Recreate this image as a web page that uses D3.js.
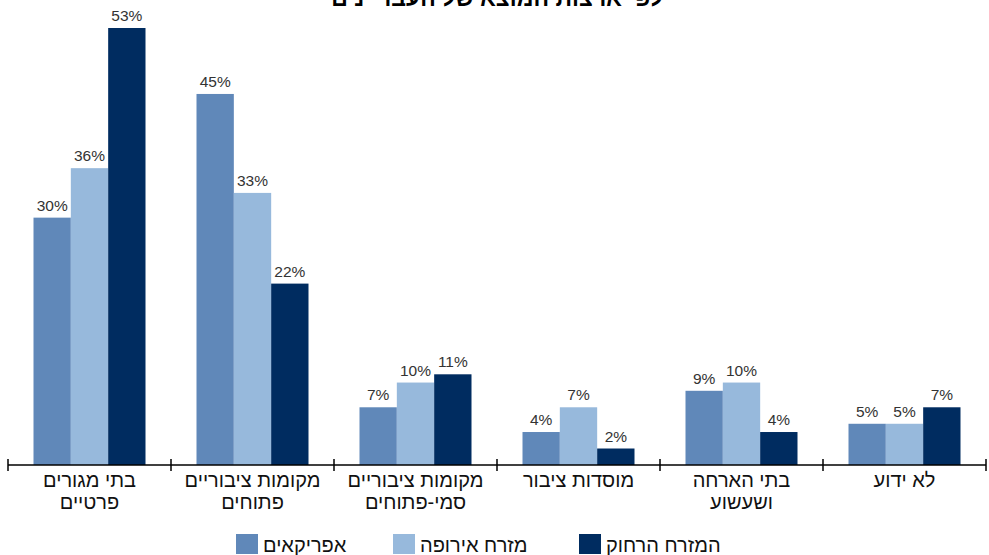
<!DOCTYPE html>
<html><head><meta charset="utf-8">
<script src="https://cdn.jsdelivr.net/npm/d3@7"></script>
<style>
html,body{margin:0;padding:0;background:#fff;}
svg{display:block;font-family:"Liberation Sans",Arial,sans-serif;}
</style></head>
<body>
<svg id="chart" width="989" height="555"></svg>
<script>
const title = "לפי ארצות המוצא של העבריינים";
const categories = [
  ["בתי מגורים","פרטיים"],
  ["מקומות ציבוריים","פתוחים"],
  ["מקומות ציבוריים","סמי-פתוחים"],
  ["מוסדות ציבור"],
  ["בתי הארחה","ושעשוע"],
  ["לא ידוע"]
];
const seriesNames = ["אפריקאים","מזרח אירופה","המזרח הרחוק"];
const african = [30, 45, 7, 4, 9, 5];
const easternEurope = [36, 33, 10, 7, 10, 5];
const farEast = [53, 22, 11, 2, 4, 7];
const colors = ["#6088b9","#97b9dc","#002c60"];

const seriesValues = [african, easternEurope, farEast];
const svg = d3.select("#chart");

const catIdx = categories.map((c,i)=>i);
const pIn = 51/163, pOut = 25.5/163;
const x0 = d3.scaleBand().domain(catIdx).range([8, 986]).paddingInner(pIn).paddingOuter(pOut);
const x1 = d3.scaleBand().domain([0,1,2]).range([0, x0.bandwidth()]);
const y = d3.scaleLinear().domain([0, 53]).range([465, 28]);

// title (clipped at top, as in the reference)
svg.append("text").attr("x", 497).attr("y", 6).attr("text-anchor","middle")
  .attr("font-weight","bold").attr("font-size", 23).attr("fill","#000").text(title);

// bars
const groups = svg.selectAll("g.grp").data(catIdx).join("g").attr("class","grp")
  .attr("transform", d => `translate(${x0(d)},0)`);
groups.selectAll("rect").data(ci => seriesValues.map((s,si)=>({si, v:s[ci]}))).join("rect")
  .attr("x", d => x1(d.si)).attr("width", x1.bandwidth())
  .attr("y", d => y(d.v)).attr("height", d => y(0) - y(d.v))
  .attr("fill", d => colors[d.si]);
groups.selectAll("text.val").data(ci => seriesValues.map((s,si)=>({si, v:s[ci]}))).join("text")
  .attr("class","val")
  .attr("x", d => x1(d.si) + x1.bandwidth()/2).attr("y", d => y(d.v) - 7)
  .attr("text-anchor","middle").attr("font-size", 15.5).attr("fill","#333")
  .text(d => d.v + "%");

// axis
const step = x0.step();
const ticks = d3.range(categories.length + 1).map(i => 8 + i*step);
svg.append("line").attr("x1", 8).attr("x2", 986).attr("y1", y(0)).attr("y2", y(0))
  .attr("stroke","#000").attr("stroke-width",1.5);
svg.selectAll("line.tick").data(ticks).join("line").attr("class","tick")
  .attr("x1", d=>d).attr("x2", d=>d).attr("y1", 459).attr("y2", 471)
  .attr("stroke","#000").attr("stroke-width",1.5);

// category labels
categories.forEach((lines, i) => {
  const cx = x0(i) + x0.bandwidth()/2;
  lines.forEach((ln, j) => {
    svg.append("text").attr("x", cx).attr("y", 487 + j*21.5)
      .attr("text-anchor","middle").attr("font-size", 20).attr("fill","#111")
      .text(ln);
  });
});

// legend
const legendX = [236, 393, 579];
seriesNames.forEach((n, i) => {
  svg.append("rect").attr("x", legendX[i]).attr("y", 534).attr("width", 22).attr("height", 20)
    .attr("fill", colors[i]);
  svg.append("text").attr("x", legendX[i] + 27).attr("y", 552).attr("font-size", 20)
    .attr("fill","#111").text(n);
});
</script>
</body></html>
